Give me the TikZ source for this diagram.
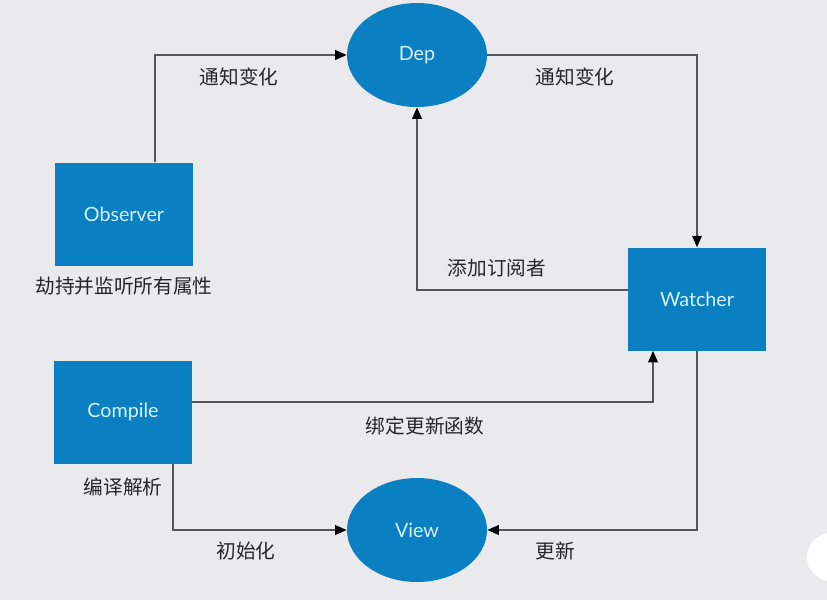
\documentclass[tikz,border=0pt]{standalone}
\usepackage{fontspec}
\setmainfont{Lato}
\newfontfamily\cjk{Noto Sans CJK SC}
\usetikzlibrary{arrows.meta,shapes.geometric}
\definecolor{bgcol}{HTML}{EAE9EC}
\definecolor{boxblue}{HTML}{0A7FC2}
\definecolor{nodetext}{HTML}{D6F1FF}
\definecolor{linecol}{HTML}{555555}
\tikzset{
  unit/.style = {fill=boxblue, text=nodetext, inner sep=0pt, font=\fontsize{11.2}{13}\selectfont},
  box/.style = {unit, rectangle, minimum width=2.76cm, minimum height=2.06cm},
  oval/.style = {unit, ellipse, minimum width=2.8cm, minimum height=2.08cm},
  tag/.style = {text=black!85, font=\cjk\fontsize{11.2}{13}\selectfont},
  link/.style = {draw=linecol, line width=0.8pt, -{Triangle[length=6.5pt,width=5.5pt,color=black]}}
}
\begin{document}
\begin{tikzpicture}[x=0.02cm, y=-0.02cm]
  \fill[bgcol] (0,0) rectangle (827,600);
  \useasboundingbox (0,0) rectangle (827,600);
  \begin{scope}
    \clip (0,0) rectangle (827,600);
    \fill[white] (831,557) circle (24);
  \end{scope}
  % nodes
  \node[oval] (dep) at (417,55) {Dep};
  \node[box] (obs) at (124,214) {Observer};
  \node[box] (wat) at (697,299) {Watcher};
  \node[box] (cmp) at (123,412) {Compile};
  \node[oval] (view) at (417,530) {View};
  % labels
  \node[tag] (tobs) at (124,286) {劫持并监听所有属性};
  \node[tag] (tcmp) at (123,487) {编译解析};
  \node[tag] (tnotify1) at (239,77) {通知变化};
  \node[tag] (tnotify2) at (575,77) {通知变化};
  \node[tag] (tsub) at (497,268) {添加订阅者};
  \node[tag] (tbind) at (425,426) {绑定更新函数};
  \node[tag] (tinit) at (246,551) {初始化};
  \node[tag] (tupd) at (555,551) {更新};
  % connectors
  \draw[link] ([xshift=0.62cm]obs.north) |- (dep.west);
  \draw[link] (dep.east) -| (wat.north);
  \draw[link] ([yshift=0.18cm]wat.west) -| (dep.south);
  \draw[link] ([yshift=0.2cm]cmp.east) -| ([xshift=-0.88cm]wat.south);
  \draw[link] ([xshift=1cm]cmp.south) |- (view.west);
  \draw[link] (wat.south) |- (view.east);
\end{tikzpicture}
\end{document}
